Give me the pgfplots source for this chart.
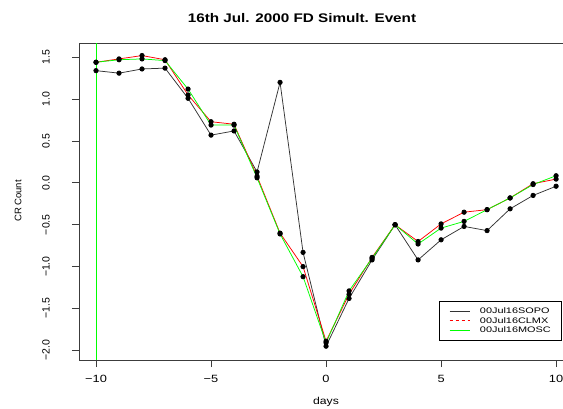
\documentclass[border=0pt]{standalone}
\usepackage{pgfplots}
\pgfplotsset{compat=1.18}
\usepackage{fontspec}
\setmainfont{Liberation Sans}
\newfontfamily\hfont{Liberation Sans}[FakeStretch=1.22]
\newfontfamily\lfont{Liberation Sans}[FakeStretch=1.36]
\newfontfamily\vfont{Liberation Sans}
\definecolor{rgreen}{RGB}{0,255,0}
\definecolor{rred}{RGB}{255,0,0}
\definecolor{axgray}{RGB}{60,60,60}
\begin{document}
\begin{tikzpicture}
\begin{axis}[
  scale only axis, width=484pt, height=317pt,
  at={(0,0)}, anchor=south west,
  xmin=-10.74, xmax=10.3, ymin=-2.115, ymax=1.67,
  xtick={-10,-5,0,5,10},
  xticklabels={−10,−5,0,5,10},
  ytick={-2,-1.5,-1,-0.5,0,0.5,1,1.5},
  yticklabels={−2.0,−1.5,−1.0,−0.5,0.0,0.5,1.0,1.5},
  tick align=outside, xtick pos=bottom, ytick pos=left,
  major tick length=7pt,
  axis line style={axgray, line width=0.8pt},
  every tick/.style={axgray, line width=0.8pt},
  xticklabel style={font=\hfont\fontsize{10.5}{12}\selectfont, anchor=north, inner sep=0pt, yshift=-8pt},
  yticklabel shift=22pt,
  yticklabel style={font=\vfont\fontsize{10.5}{12}\selectfont, rotate=90, anchor=south, inner sep=0pt},
  clip=false,
  legend style={draw=black, line width=0.6pt, fill=white, at={(rel axis cs:0.998,0.06)}, anchor=south east,
    font=\lfont\fontsize{8}{9.5}\selectfont, inner xsep=10pt, inner ysep=5.5pt, row sep=0pt,
    nodes={inner sep=1pt, text height=6pt, text depth=1.5pt},
    /tikz/every odd column/.style={column sep=9pt}},
  legend cell align=left,
  every axis plot/.append style={line width=0.75pt},
]
\addplot[rgreen, line width=0.9pt, forget plot] coordinates {(-10,-2.115) (-10,1.67)};
\addplot[black!80, mark=*, mark size=2.2pt, mark options={black, fill=black}, forget plot] coordinates {
(-10,1.34) (-9,1.31) (-8,1.36) (-7,1.37) (-6,1.01) (-5,0.57) (-4,0.62) (-3,0.13) (-2,1.20) (-1,-0.83)
(0,-1.95) (1,-1.38) (2,-0.92) (3,-0.50) (4,-0.92) (5,-0.68) (6,-0.52) (7,-0.57) (8,-0.31) (9,-0.15) (10,-0.04)};
\addplot[rred, mark=*, mark size=2.2pt, mark options={black, fill=black}, forget plot] coordinates {
(-10,1.44) (-9,1.48) (-8,1.52) (-7,1.47) (-6,1.05) (-5,0.73) (-4,0.70) (-3,0.08) (-2,-0.60) (-1,-1.00)
(0,-1.89) (1,-1.33) (2,-0.89) (3,-0.50) (4,-0.70) (5,-0.49) (6,-0.35) (7,-0.32) (8,-0.18) (9,-0.01) (10,0.045)};
\addplot[rgreen, mark=*, mark size=2.2pt, mark options={black, fill=black}, forget plot] coordinates {
(-10,1.44) (-9,1.47) (-8,1.48) (-7,1.46) (-6,1.12) (-5,0.69) (-4,0.69) (-3,0.06) (-2,-0.61) (-1,-1.12)
(0,-1.91) (1,-1.29) (2,-0.90) (3,-0.50) (4,-0.73) (5,-0.54) (6,-0.46) (7,-0.32) (8,-0.18) (9,-0.02) (10,0.085)};
\addlegendimage{legend image code/.code={\draw[black!80, line width=0.75pt] (0pt,0pt) -- (20pt,0pt);}}
\addlegendentry{00Jul16SOPO}
\addlegendimage{legend image code/.code={\draw[draw=rred, dash pattern=on 3.5pt off 2.5pt, line width=0.9pt] (0pt,0pt) -- (20pt,0pt);}}
\addlegendentry{00Jul16CLMX}
\addlegendimage{legend image code/.code={\draw[rgreen, line width=0.75pt] (0pt,0pt) -- (20pt,0pt);}}
\addlegendentry{00Jul16MOSC}
\end{axis}
\node[font=\hfont\bfseries\fontsize{12.5}{14}\selectfont] at (223pt,342pt) {16th Jul. 2000 FD Simult. Event};
\node[font=\hfont\fontsize{10}{12}\selectfont] at (247pt,-42pt) {days};
\node[font=\vfont\fontsize{9.5}{11}\selectfont, rotate=90] at (-61pt,159pt) {CR Count};
\pgfresetboundingbox
\path[use as bounding box] (-79pt,-48pt) rectangle (484pt,360pt);
\end{tikzpicture}
\end{document}
